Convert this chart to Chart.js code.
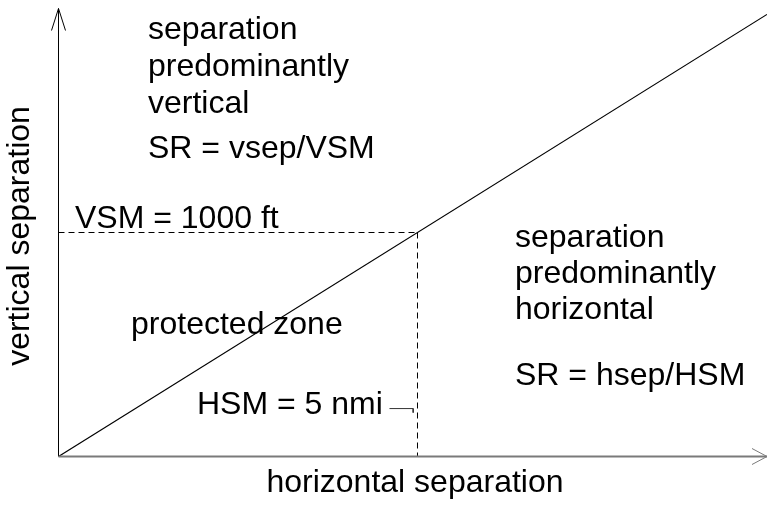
<!DOCTYPE html>
<html>
<head>
<meta charset="utf-8">
<script src="https://cdn.jsdelivr.net/npm/chart.js@4"></script>
<style>
  html, body { margin: 0; padding: 0; background: #fff; }
  #wrap { width: 767px; height: 508px; }
</style>
</head>
<body>
<div id="wrap"><canvas id="diagram" width="767" height="508"></canvas></div>
<script>
// separation margins (x in nmi, y in ft)
const hsm = 5, vsm = 1000;
const xMax = 9.868, yMax = 2000;
const boundary = [[0, 0], [xMax, xMax * vsm / hsm]];
const vsmDash = [[0, vsm], [hsm, vsm]];
const hsmDash = [[hsm, vsm], [hsm, 0]];
const hsmPointer = [[4.61, 214], [4.94, 214], [4.94, 196]];

const xTitle = 'horizontal separation', yTitle = 'vertical separation';
const upperText = ['separation', 'predominantly', 'vertical', 'SR = vsep/VSM'];
const lowerText = ['separation', 'predominantly', 'horizontal', 'SR = hsep/HSM'];
const vsmText = 'VSM = 1000 ft', hsmText = 'HSM = 5 nmi', zoneText = 'protected zone';

const pts = a => a.map(p => ({ x: p[0], y: p[1] }));
const FONT = '32px "Liberation Sans", Arial, sans-serif';

const labelsPlugin = {
    id: 'labels',
    afterDatasetsDraw(chart) {
        const ctx = chart.ctx, xs = chart.scales.x, ys = chart.scales.y;
        const x0 = xs.getPixelForValue(0), y0 = ys.getPixelForValue(0);
        const top = ys.getPixelForValue(yMax), right = xs.getPixelForValue(xMax);
        ctx.save();
        // axes
        ctx.strokeStyle = '#000'; ctx.lineWidth = 1;
        ctx.beginPath(); ctx.moveTo(x0, y0); ctx.lineTo(x0, top);
        ctx.moveTo(x0 - 7, top + 22); ctx.lineTo(x0, top); ctx.lineTo(x0 + 7, top + 22); ctx.stroke();
        ctx.strokeStyle = '#7a7a7a'; ctx.lineWidth = 2;
        ctx.beginPath(); ctx.moveTo(x0, y0); ctx.lineTo(right, y0); ctx.stroke();
        ctx.lineWidth = 1;
        ctx.beginPath(); ctx.moveTo(right - 15, y0 - 8); ctx.lineTo(right, y0); ctx.lineTo(right - 15, y0 + 8); ctx.stroke();
        // text
        ctx.fillStyle = '#000'; ctx.font = FONT; ctx.textBaseline = 'alphabetic'; ctx.textAlign = 'left';
        [39, 76, 113, 158].forEach((y, i) => ctx.fillText(upperText[i], 148, y));
        [247, 283, 319, 385].forEach((y, i) => ctx.fillText(lowerText[i], 515, y));
        ctx.fillText(vsmText, 75, 228);
        ctx.fillText(zoneText, 131, 334);
        ctx.fillText(hsmText, 197, 414);
        ctx.textAlign = 'center';
        ctx.fillText(xTitle, 415, 492);
        ctx.translate(29, 236); ctx.rotate(-Math.PI / 2);
        ctx.fillText(yTitle, 0, 0);
        ctx.restore();
    }
};

new Chart(document.getElementById('diagram'), {
    type: 'scatter',
    data: {
        datasets: [
            { data: pts(boundary), showLine: true, borderColor: '#000', borderWidth: 1.2, pointRadius: 0 },
            { data: pts(vsmDash), showLine: true, borderColor: '#000', borderWidth: 1, borderDash: [6, 4], pointRadius: 0 },
            { data: pts(hsmDash), showLine: true, borderColor: '#000', borderWidth: 1, borderDash: [6, 4], pointRadius: 0 },
            { data: pts(hsmPointer), showLine: true, borderColor: '#333', borderWidth: 1, pointRadius: 0 }
        ]
    },
    options: {
        responsive: false, animation: false,
        layout: { padding: { left: 58.5, right: 0, top: 8.5, bottom: 51.5 } },
        scales: {
            x: { type: 'linear', min: 0, max: xMax, display: false },
            y: { type: 'linear', min: 0, max: yMax, display: false }
        },
        plugins: { legend: { display: false }, tooltip: { enabled: false }, title: { display: false } }
    },
    plugins: [labelsPlugin]
});
</script>
</body>
</html>
